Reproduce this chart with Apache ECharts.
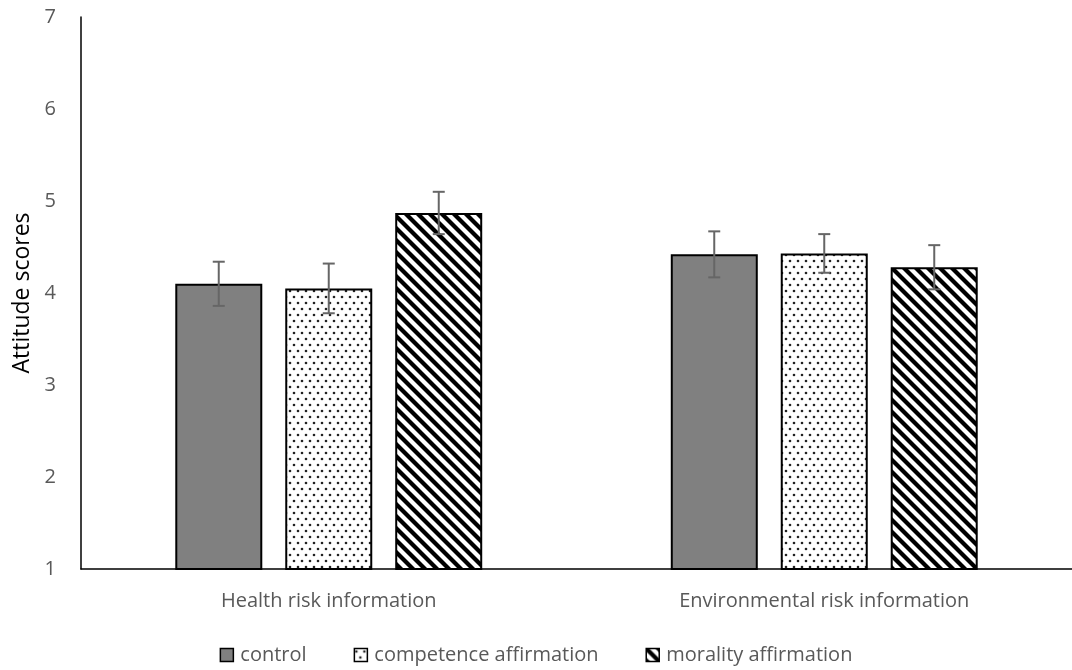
<!DOCTYPE html>
<html>
<head>
<meta charset="utf-8">
<script src="https://cdn.jsdelivr.net/npm/echarts@6/dist/echarts.min.js"></script>
<style>
html,body{margin:0;padding:0;background:#fff;}
#chart{width:1072px;height:670px;}
</style>
</head>
<body>
<div id="chart"></div>
<script>
var categories = ['Health risk information', 'Environmental risk information'];
var seriesNames = ['control', 'competence affirmation', 'morality affirmation'];
var controlValues = [4.10, 4.42];
var competenceValues = [4.05, 4.43];
var moralityValues = [4.87, 4.28];
var controlErrors = [0.24, 0.25];
var competenceErrors = [0.27, 0.21];
var moralityErrors = [0.23, 0.24];
var yTicks = [1, 2, 3, 4, 5, 6, 7];

function dotPattern() {
  var c = document.createElement('canvas');
  c.width = 8; c.height = 12;
  var ctx = c.getContext('2d');
  ctx.fillStyle = '#ffffff';
  ctx.fillRect(0, 0, 8, 12);
  ctx.fillStyle = '#222222';
  [[2, 3], [6, 9]].forEach(function (p) {
    ctx.beginPath();
    ctx.arc(p[0], p[1], 1.3, 0, Math.PI * 2);
    ctx.fill();
  });
  return c;
}
function stripePattern() {
  var s = 12;
  var c = document.createElement('canvas');
  c.width = s; c.height = s;
  var ctx = c.getContext('2d');
  ctx.fillStyle = '#ffffff';
  ctx.fillRect(0, 0, s, s);
  ctx.strokeStyle = '#000000';
  ctx.lineWidth = 4.2;
  [-s, 0, s].forEach(function (x0) {
    ctx.beginPath();
    ctx.moveTo(x0 - 2, -2);
    ctx.lineTo(x0 + s + 2, s + 2);
    ctx.stroke();
  });
  return c;
}

var fills = ['#808080', { image: dotPattern(), repeat: 'repeat' }, { image: stripePattern(), repeat: 'repeat' }];
var values = [controlValues, competenceValues, moralityValues];
var errors = [controlErrors, competenceErrors, moralityErrors];

var BAR_W = 87, GAP = 23;
var series = [];
seriesNames.forEach(function (name, i) {
  series.push({
    name: name,
    type: 'bar',
    data: values[i],
    barWidth: BAR_W,
    barGap: (GAP / BAR_W * 100).toFixed(1) + '%',
    itemStyle: { color: fills[i], borderColor: '#000', borderWidth: 2 },
    z: 2
  });
});
seriesNames.forEach(function (name, i) {
  var data = values[i].map(function (v, k) { return [k, v - errors[i][k], v + errors[i][k]]; });
  series.push({
    type: 'custom',
    name: name + ' error',
    data: data,
    z: 5,
    silent: true,
    renderItem: function (params, api) {
      var lo = api.coord([api.value(0), api.value(1)]);
      var hi = api.coord([api.value(0), api.value(2)]);
      var off = (i - 1) * (BAR_W + GAP);
      var x = lo[0] + off;
      var cap = 6;
      var st = { stroke: '#666666', lineWidth: 2 };
      return {
        type: 'group',
        children: [
          { type: 'line', shape: { x1: x, y1: lo[1], x2: x, y2: hi[1] }, style: st },
          { type: 'line', shape: { x1: x - cap, y1: lo[1], x2: x + cap, y2: lo[1] }, style: st },
          { type: 'line', shape: { x1: x - cap, y1: hi[1], x2: x + cap, y2: hi[1] }, style: st }
        ]
      };
    }
  });
});

var chart = echarts.init(document.getElementById('chart'));
chart.setOption({
  animation: false,
  backgroundColor: '#ffffff',
  textStyle: { fontFamily: '"Open Sans", sans-serif' },
  grid: { left: 81, right: 0, top: 17, bottom: 101, containLabel: false },
  legend: {
    data: seriesNames,
    left: 'center',
    top: 640,
    itemWidth: 13,
    itemHeight: 13,
    itemGap: 47,
    icon: 'rect',
    textStyle: { color: '#595959', fontSize: 20, padding: [0, 0, 0, 2] },
    itemStyle: { borderColor: '#000', borderWidth: 1.5 }
  },
  xAxis: {
    type: 'category',
    data: categories,
    axisLine: { lineStyle: { color: '#000', width: 1.5 } },
    axisTick: { show: false },
    axisLabel: { color: '#595959', fontSize: 20, margin: 22 }
  },
  yAxis: {
    type: 'value',
    min: yTicks[0],
    max: yTicks[yTicks.length - 1],
    interval: 1,
    name: 'Attitude scores',
    nameLocation: 'middle',
    nameGap: 44,
    nameTextStyle: { color: '#000', fontSize: 23 },
    axisLine: { show: true, lineStyle: { color: '#000', width: 1.5 } },
    axisTick: { show: false },
    splitLine: { show: false },
    axisLabel: { color: '#595959', fontSize: 20, margin: 25 }
  },
  series: series
});
</script>
</body>
</html>
